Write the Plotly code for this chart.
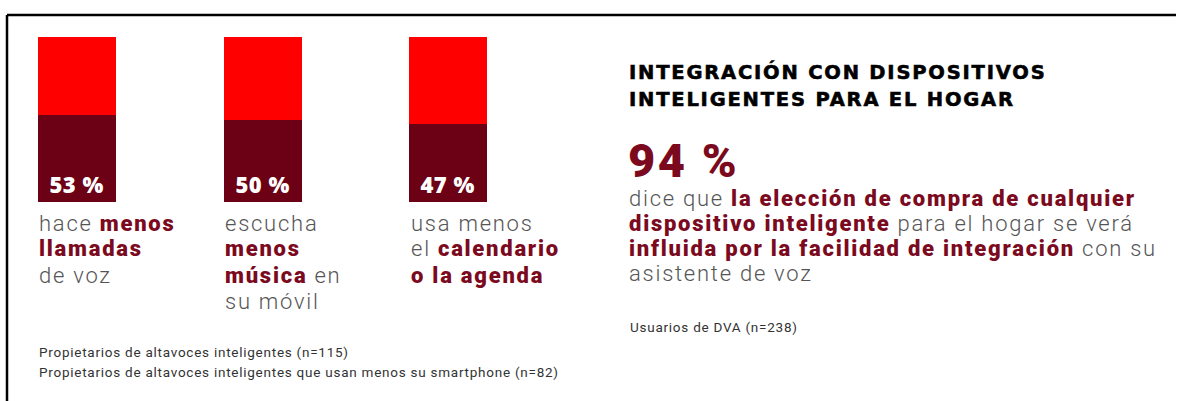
import plotly.graph_objects as go

# ---- data ----
categories = ["llamadas", "música", "calendario"]
values = [53, 50, 47]
value_labels = ["53 %", "50 %", "47 %"]
rest = [100 - v for v in values]

col_lines = [
    ["hace <b>menos</b>", "<b>llamadas</b>", "de voz"],
    ["escucha", "<b>menos</b>", "<b>música</b> en", "su móvil"],
    ["usa menos", "el <b>calendario</b>", "<b>o la agenda</b>"],
]
footnotes = [
    "Propietarios de altavoces inteligentes (n=115)",
    "Propietarios de altavoces inteligentes que usan menos su smartphone (n=82)",
]
title_lines = ["INTEGRACIÓN CON DISPOSITIVOS", "INTELIGENTES PARA EL HOGAR"]
big_value = "94 %"
para_lines = [
    "dice que <b>la elección de compra de cualquier</b>",
    "<b>dispositivo inteligente</b> para el hogar se verá",
    "<b>influida por la facilidad de integración</b> con su",
    "asistente de voz",
]
right_note = "Usuarios de DVA (n=238)"

W, H = 1179, 401
DARK = "#6C0014"
RED = "#FF0000"
TXT_RED = "#7B0A1E"
GREY = "#555555"
FONT = "Roboto"


def px(x):
    return x / W


def py(y):
    return 1 - y / H


fig = go.Figure()
fig.add_bar(x=categories, y=values, marker=dict(color=DARK, line=dict(width=0)),
            text=[f"<span style='font-weight:800;letter-spacing:0.5px'>{t}</span>" for t in value_labels],
            textposition="inside", insidetextanchor="start",
            textfont=dict(color="white", size=22, family="Open Sans"),
            hoverinfo="skip", width=0.42)
fig.add_bar(x=categories, y=rest, marker=dict(color=RED, line=dict(width=0)),
            hoverinfo="skip", width=0.42)

annotations = []


def add_text(x, y, text, size, color=GREY, weight=300, bold_color=TXT_RED,
             bold_weight=900, spacing=1.75, family=FONT, extra=""):
    normal = f"<span style='color:{color};font-weight:{weight};letter-spacing:{spacing}px'>"
    bold = f"<span style='color:{bold_color};font-weight:{bold_weight};letter-spacing:{spacing}px{extra}'>"
    t = normal + text.replace("<b>", "</span>" + bold).replace("</b>", "</span>" + normal) + "</span>"
    annotations.append(dict(x=px(x), y=py(y), xref="paper", yref="paper",
                            xanchor="left", yanchor="middle", showarrow=False,
                            text=t, font=dict(family=family, size=size, color=color, weight=weight)))


col_x = [38, 224, 410]
for cx, lines in zip(col_x, col_lines):
    for i, line in enumerate(lines):
        add_text(cx - 1, 223 + i * 26, line, 22)

for i, f in enumerate(footnotes):
    add_text(37, 352 + i * 20, f, 13.5, color="#333333", weight=400, spacing=0.75)

for i, t in enumerate(title_lines):
    add_text(627, 72 + i * 27, "<b>" + t + "</b>", 19.5, color="black", bold_color="black",
             bold_weight=700, spacing=1.8, family="DejaVu Sans",
             extra=";stroke:black;stroke-width:0.6px")

add_text(626, 160, "<b>" + big_value + "</b>", 47, spacing=2.5)
for i, line in enumerate(para_lines):
    add_text(627, 198 + i * 25.3, line, 22)
add_text(628, 327, right_note, 13.5, color="#333333", weight=400, spacing=0.75)

shapes = [
    dict(type="line", xref="paper", yref="paper", x0=px(7), x1=px(1176), y0=py(15), y1=py(15),
         line=dict(color="black", width=2.5)),
    dict(type="line", xref="paper", yref="paper", x0=px(7), x1=px(7), y0=py(15), y1=0,
         line=dict(color="black", width=2.5)),
]

fig.update_layout(
    width=W, height=H, margin=dict(l=0, r=0, t=0, b=0),
    barmode="stack", bargap=0, showlegend=False,
    paper_bgcolor="white", plot_bgcolor="white",
    xaxis=dict(domain=[30.6 / W, 494.4 / W], range=[-0.25, 2.25], visible=False,
               type="category"),
    yaxis=dict(domain=[py(202), py(37)], range=[0, 100], visible=False),
    annotations=annotations, shapes=shapes,
)

fig.write_html("out.html", config={"displayModeBar": False},
               post_script="document.body.style.margin='0';document.body.style.overflow='hidden';")
